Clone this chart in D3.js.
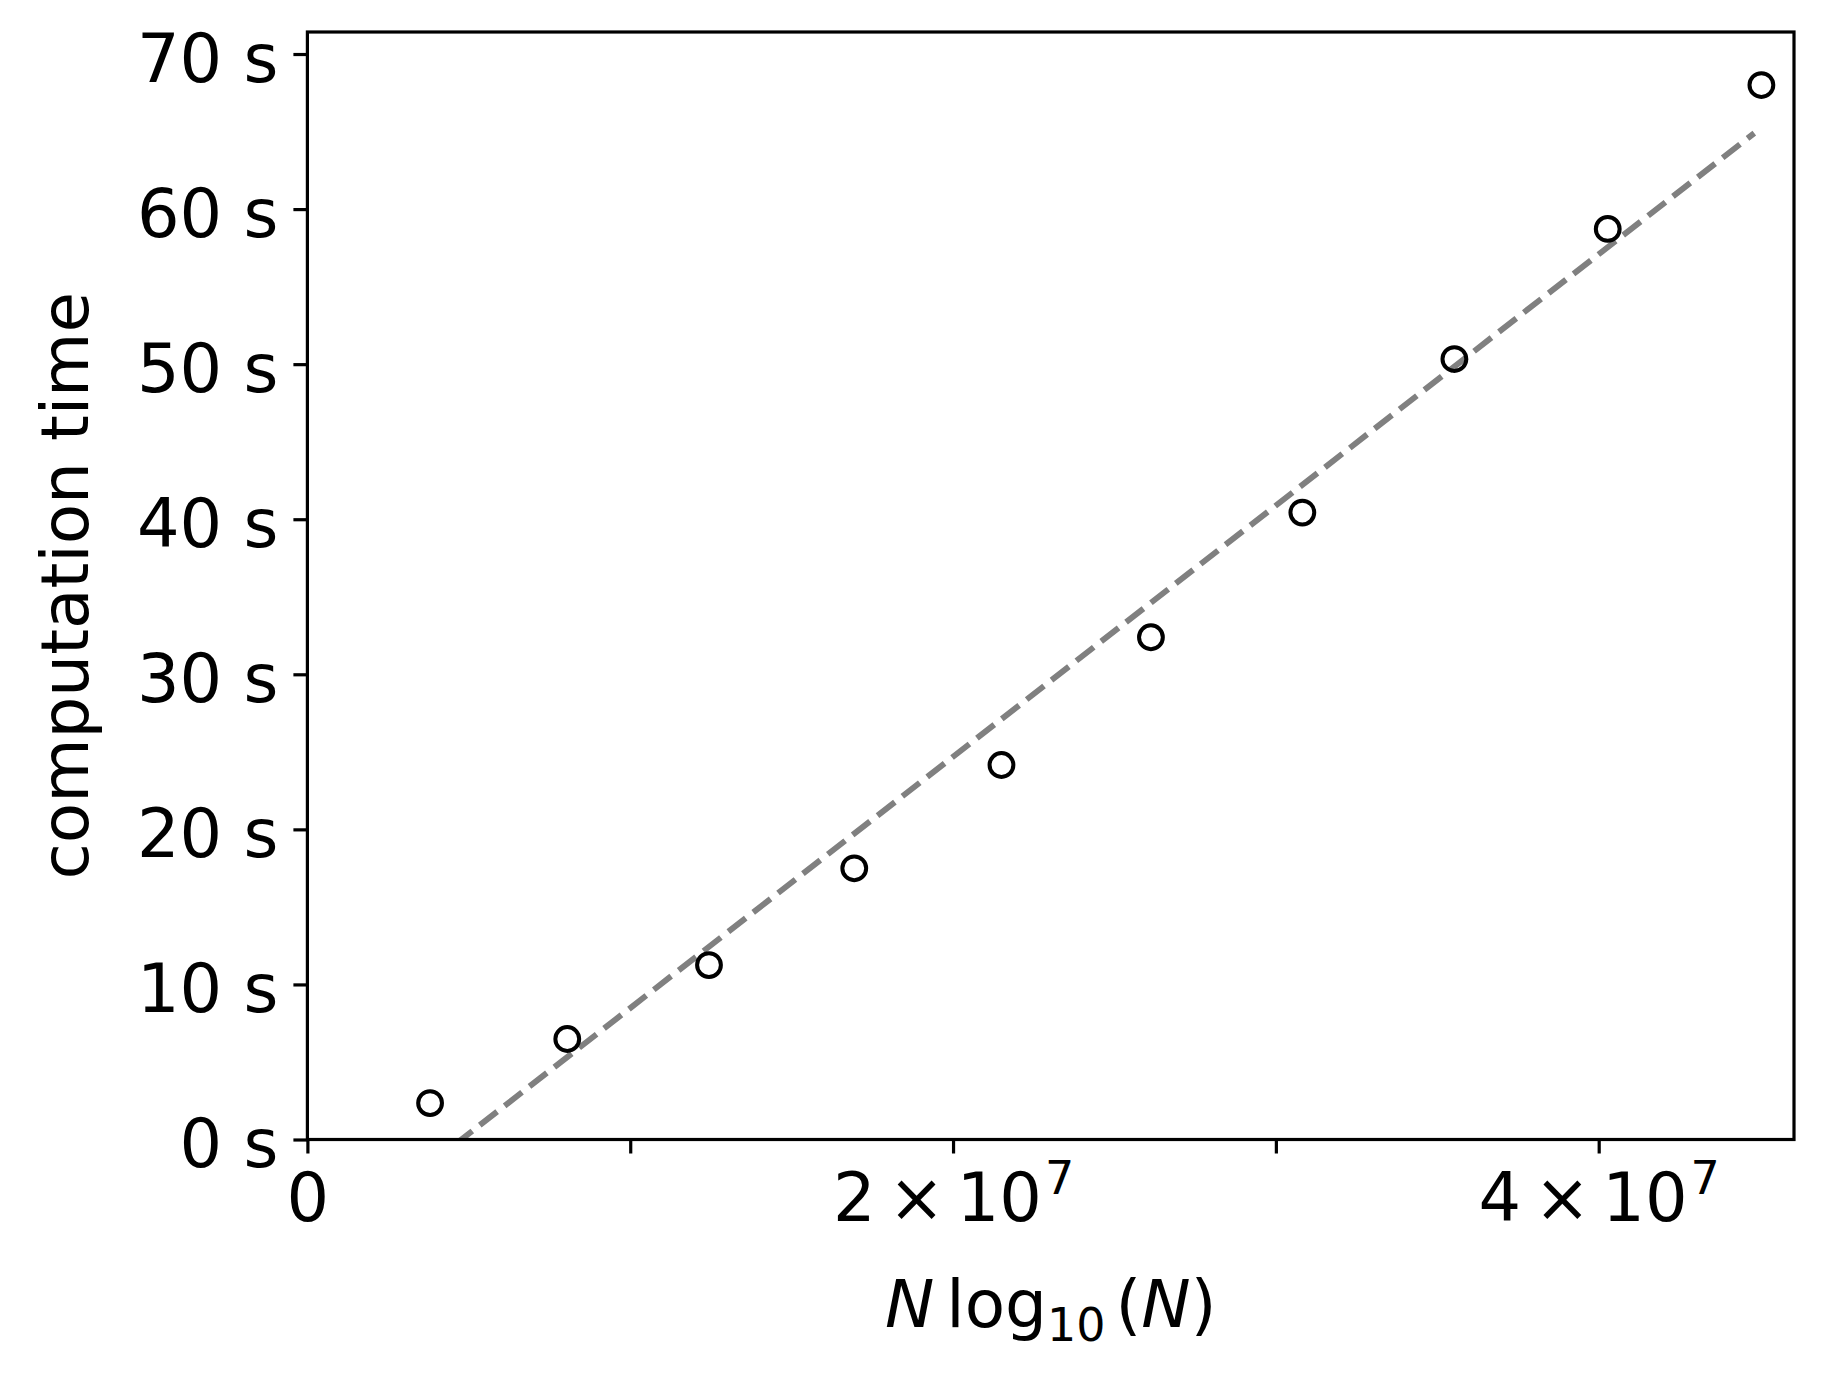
<!DOCTYPE html>
<html>
<head>
<meta charset="utf-8">
<script src="https://d3js.org/d3.v7.min.js"></script>
<style>
body { margin: 0; background: #fff; }
svg { display: block; font-family: "DejaVu Sans", sans-serif; }
</style>
</head>
<body>
<div id="chart"></div>
<script>
var nlogn = [0.380e7, 0.805e7, 1.244e7, 1.694e7, 2.150e7, 2.613e7, 3.082e7, 3.553e7, 4.028e7, 4.504e7];
var seconds = [2.35, 6.48, 11.25, 17.49, 24.15, 32.39, 40.43, 50.33, 58.72, 68.0];

// fitted line, visible end points
var fitX = [0.380e7, 4.482e7];
var fitY = [-1.57, 64.9];

var xTicks = [0, 1e7, 2e7, 3e7, 4e7];
var xTickLabels = ["0", "", "2", "", "4"];   // mantissa of "m × 10^7"
var yTicks = [0, 10, 20, 30, 40, 50, 60, 70];

var width = 1823,
    height = 1373,
    margin = {top: 32, right: 29, bottom: 233.5, left: 307.4};
var w = width - margin.left - margin.right,
    h = height - margin.top - margin.bottom;

var x = d3.scaleLinear().domain([0, 4.605e7]).range([0, w]);
var y = d3.scaleLinear().domain([0, 71.42]).range([h, 0]);

var svg = d3.select("#chart").append("svg")
    .attr("width", width)
    .attr("height", height);

var g = svg.append("g")
    .attr("transform", "translate(" + margin.left + "," + margin.top + ")");

g.append("clipPath").attr("id", "plotclip")
  .append("rect").attr("width", w).attr("height", h);

// dashed fit line
var line = d3.line()
    .x(function(d) { return x(d[0]); })
    .y(function(d) { return y(d[1]); });

g.append("path")
    .datum(d3.zip(fitX, fitY))
    .attr("clip-path", "url(#plotclip)")
    .attr("d", line)
    .attr("fill", "none")
    .attr("stroke", "#808080")
    .attr("stroke-width", 5.9)
    .attr("stroke-dasharray", "22,9.5");

// data points
g.selectAll(".pt")
    .data(d3.zip(nlogn, seconds))
  .enter().append("circle")
    .attr("class", "pt")
    .attr("cx", function(d) { return x(d[0]); })
    .attr("cy", function(d) { return y(d[1]); })
    .attr("r", 11.9)
    .attr("fill", "none")
    .attr("stroke", "#000")
    .attr("stroke-width", 4);

// axes
var xAxis = g.append("g")
    .attr("transform", "translate(0," + h + ")")
    .call(d3.axisBottom(x).tickValues(xTicks).tickSize(14).tickSizeOuter(0).tickFormat(""));
var yAxis = g.append("g")
    .call(d3.axisLeft(y).tickValues(yTicks).tickSize(14).tickSizeOuter(0)
      .tickFormat(function(d) { return d + " s"; }));

[xAxis, yAxis].forEach(function(a) {
  a.select(".domain").remove();
  a.selectAll(".tick line").attr("stroke", "#000").attr("stroke-width", 3.2);
});

yAxis.selectAll(".tick text")
    .attr("x", -29)
    .attr("dy", "0.41em")
    .style("font-size", "67px")
    .style("font-family", "DejaVu Sans")
    .attr("fill", "#000");

// x tick labels like 2 × 10^7
xAxis.selectAll(".tick").each(function(d, i) {
  var lab = xTickLabels[i];
  if (!lab) return;
  var t = d3.select(this).append("text")
      .attr("y", 81)
      .attr("text-anchor", "middle")
      .attr("fill", "#000")
      .style("font-size", "67px")
      .style("font-family", "DejaVu Sans");
  if (d === 0) { t.text(lab); return; }
  t.append("tspan").text(lab);
  t.append("tspan").attr("dx", 13).text("\u00d7");
  t.append("tspan").attr("dx", 12).text("10");
  t.append("tspan").attr("dx", 3).attr("dy", -27).style("font-size", "46px").text("7");
});

// frame
g.append("rect")
    .attr("width", w)
    .attr("height", h)
    .attr("fill", "none")
    .attr("stroke", "#000")
    .attr("stroke-width", 3.2);

// axis titles
var xl = svg.append("text")
    .attr("x", margin.left + w / 2)
    .attr("y", 1327)
    .attr("text-anchor", "middle")
    .style("font-size", "66px");
xl.append("tspan").style("font-style", "italic").text("N");
xl.append("tspan").attr("dx", 12).text("log");
xl.append("tspan").attr("dy", 14).style("font-size", "46px").text("10");
xl.append("tspan").attr("dy", -14).attr("dx", 10).text("(");
xl.append("tspan").style("font-style", "italic").text("N");
xl.append("tspan").text(")");

svg.append("text")
    .attr("transform", "translate(88," + (margin.top + h / 2) + ") rotate(-90)")
    .attr("text-anchor", "middle")
    .style("font-size", "66px")
    .text("computation time");
</script>
</body>
</html>
